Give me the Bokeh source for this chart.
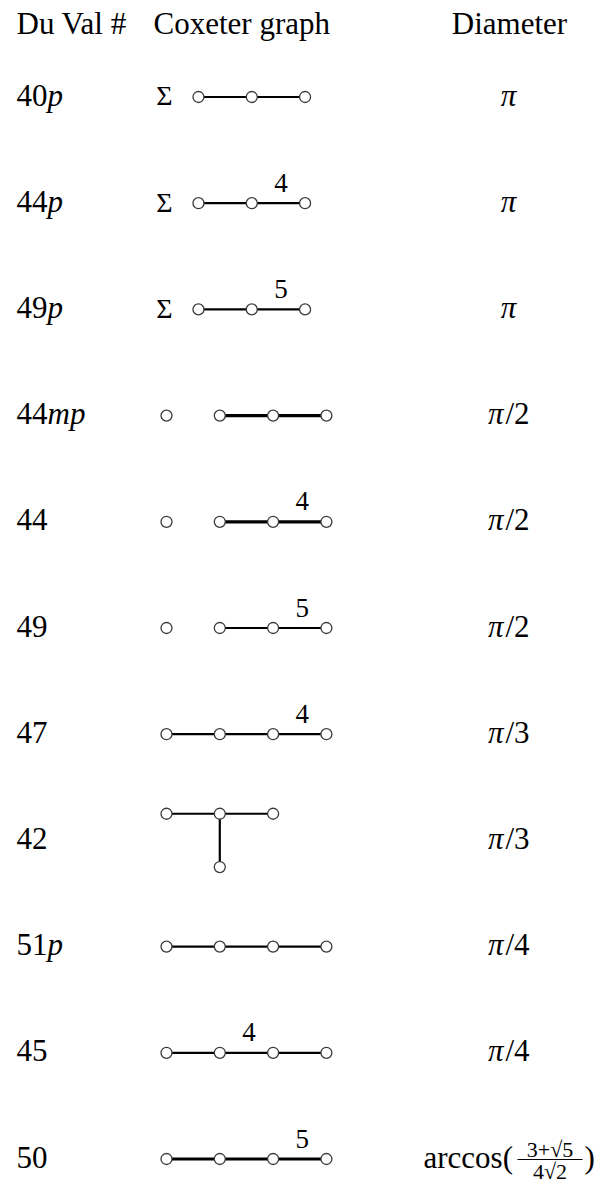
from bokeh.plotting import figure
from bokeh.models import Range1d
from bokeh.core.properties import value
from bokeh.embed import file_html
from bokeh.resources import INLINE

# ---------------- data ----------------
headers = ["Du Val #", "Coxeter graph", "Diameter"]
label_num = ["40", "44", "49", "44", "44", "49", "47", "42", "51", "45", "50"]
label_suffix = ["p", "p", "p", "mp", "", "", "", "", "p", "", ""]
diam_sym = ["π", "π", "π", "π", "π", "π", "π", "π", "π", "π", ""]
diam_den = ["", "", "", "/2", "/2", "/2", "/3", "/3", "/4", "/4", ""]
arccos_head = "arccos("
arccos_num = "3+√5"
arccos_den = "4√2"
arccos_tail = ")"
has_sigma = [True, True, True, False, False, False, False, False, False, False, False]
# node grid positions (column, vertical offset) per row
chain3s = [(0.6, 0), (1.6, 0), (2.6, 0)]
iso_chain = [(0, 0), (1, 0), (2, 0), (3, 0)]
chain4 = [(0, 0), (1, 0), (2, 0), (3, 0)]
tee = [(0, -0.5), (1, -0.5), (2, -0.5), (1, 0.5)]
graph_nodes = [chain3s, chain3s, chain3s, iso_chain, iso_chain, iso_chain,
               chain4, tee, chain4, chain4, chain4]
graph_edges = [[(0, 1), (1, 2)], [(0, 1), (1, 2)], [(0, 1), (1, 2)],
               [(1, 2), (2, 3)], [(1, 2), (2, 3)], [(1, 2), (2, 3)],
               [(0, 1), (1, 2), (2, 3)], [(0, 1), (1, 2), (1, 3)],
               [(0, 1), (1, 2), (2, 3)], [(0, 1), (1, 2), (2, 3)],
               [(0, 1), (1, 2), (2, 3)]]
edge_marks = [{}, {(1, 2): "4"}, {(1, 2): "5"}, {}, {(2, 3): "4"}, {(2, 3): "5"},
              {(2, 3): "4"}, {}, {}, {(1, 2): "4"}, {(2, 3): "5"}]
thick = [False, False, False, True, True, False, False, False, False, False, True]

# ---------------- layout ----------------
W, H = 595, 1184
ROW0, ROWSTEP = 96.5, 106.2
COL0, COLSTEP = 166, 53.3
X_LABEL, X_COX, X_DIAM = 16, 153, 509
FONT = value("Liberation Serif")
FS = 31

p = figure(width=W, height=H, output_backend="svg", toolbar_location=None,
           x_range=Range1d(0, W), y_range=Range1d(H, 0),
           min_border=0, x_axis_location=None, y_axis_location=None)
p.grid.visible = False
p.outline_line_color = None
p.background_fill_color = "white"
p.border_fill_color = "white"

def txt(xs, ys, texts, size, align="left", style="normal"):
    dy = -0.29 * size
    p.text(x=xs, y=[y + dy for y in ys], text=texts, text_font=FONT,
           text_font_size=value(f"{size}px"),
           text_font_style=style, text_align=align, text_baseline="alphabetic",
           text_color="black")

# headers
txt([X_LABEL, X_COX], [32, 32], headers[:2], FS)
txt([X_DIAM], [32], headers[2:], FS, align="center")

rows_y = [ROW0 + i * ROWSTEP for i in range(len(label_num))]
base = [y + 7 for y in rows_y]

# row labels
txt([X_LABEL] * len(label_num), base, label_num, FS)
sx = [X_LABEL + len(n) * 0.5 * FS for n in label_num]
txt(sx, base, label_suffix, FS, style="italic")

# diameters: pi alone is centred; pi followed by "/n" is split around the slash
pa_x, pa_y, pa_t = [], [], []
pr_x, pr_y, pr_t = [], [], []
dd_x, dd_y, dd_t = [], [], []
for i in range(len(diam_sym)):
    if not diam_sym[i]:
        continue
    if diam_den[i]:
        pr_x.append(X_DIAM - 6); pr_y.append(base[i]); pr_t.append(diam_sym[i])
        dd_x.append(X_DIAM - 4); dd_y.append(base[i]); dd_t.append(diam_den[i])
    else:
        pa_x.append(X_DIAM - 1); pa_y.append(base[i]); pa_t.append(diam_sym[i])
txt(pa_x, pa_y, pa_t, FS, align="center", style="italic")
txt(pr_x, pr_y, pr_t, FS, align="right", style="italic")
txt(dd_x, dd_y, dd_t, FS)

# arccos expression (last row)
yl = rows_y[-1]
txt([423], [yl + 7], [arccos_head], FS)
fr_c = 549.5
txt([fr_c], [yl - 3.5], [arccos_num], 22, align="center")
txt([fr_c], [yl + 18.5], [arccos_den], 22, align="center")
p.segment(x0=[517], y0=[yl + 0.5], x1=[582], y1=[yl + 0.5], line_color="black", line_width=1.2)
txt([584], [yl + 7], [arccos_tail], FS)

# sigma
sg_y = [base[i] for i in range(len(has_sigma)) if has_sigma[i]]
txt([COL0 - 2] * len(sg_y), sg_y, ["Σ"] * len(sg_y), 28, align="center")

# coxeter graphs
for i, nodes in enumerate(graph_nodes):
    y0 = rows_y[i]
    nx = [COL0 + c * COLSTEP for c, r in nodes]
    ny = [y0 + r * COLSTEP for c, r in nodes]
    ex0 = [nx[a] for a, b in graph_edges[i]]
    ey0 = [ny[a] for a, b in graph_edges[i]]
    ex1 = [nx[b] for a, b in graph_edges[i]]
    ey1 = [ny[b] for a, b in graph_edges[i]]
    p.segment(x0=ex0, y0=ey0, x1=ex1, y1=ey1, line_color="black",
              line_width=3.2 if thick[i] else 2.2)
    p.scatter(x=nx, y=ny, marker="circle", size=11, fill_color="white",
              line_color="#3a3a3a", line_width=1.3)
    mk = edge_marks[i]
    if mk:
        mx = [(nx[a] + nx[b]) / 2 + 2.5 for (a, b) in mk]
        my = [(ny[a] + ny[b]) / 2 - 12.5 for (a, b) in mk]
        txt(mx, my, list(mk.values()), 27, align="center")

open("out.html", "w").write(file_html(p, INLINE))
